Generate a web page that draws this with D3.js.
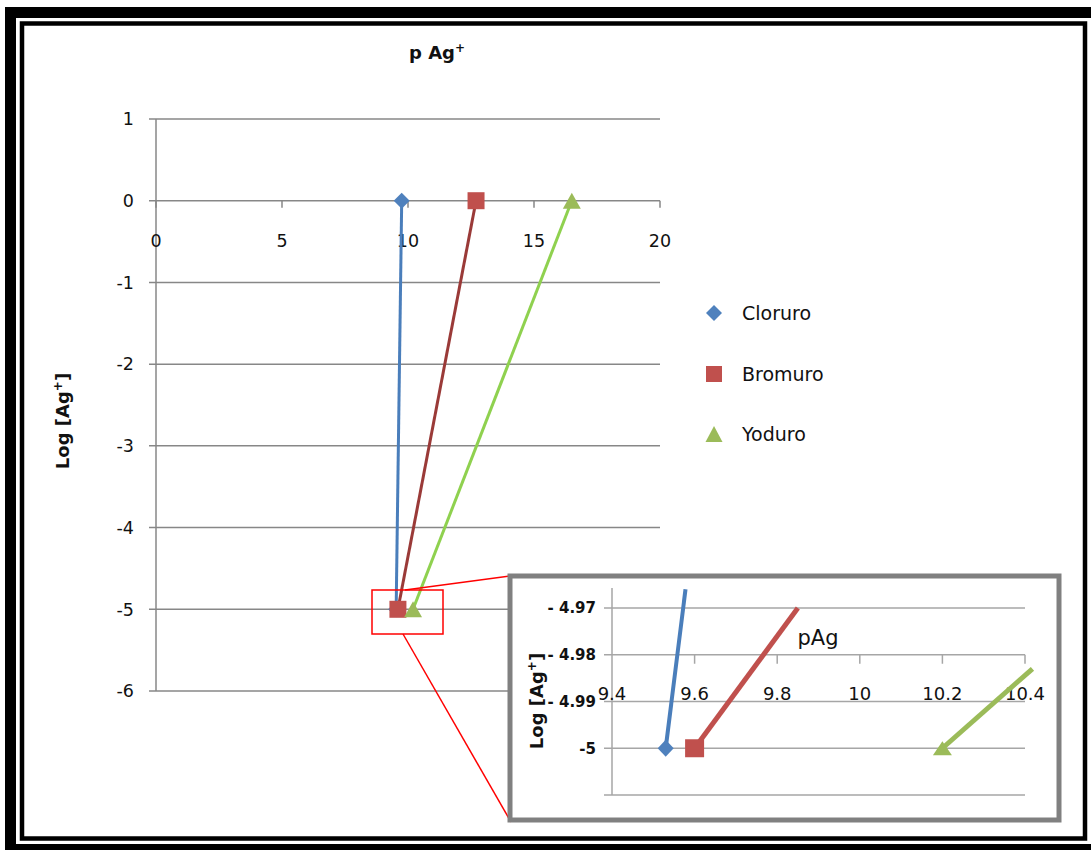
<!DOCTYPE html>
<html>
<head>
<meta charset="utf-8">
<script src="https://cdn.jsdelivr.net/npm/d3@7"></script>
<style>
  html, body { margin: 0; padding: 0; background: #fff; }
  svg { display: block; font-family: "DejaVu Sans", Verdana, sans-serif; }
</style>
</head>
<body>
<svg id="chart" width="1091" height="850"></svg>
<script>
// ---- Main chart data: log[Ag+] vs pAg for each halide ----
const seriesNames = ["Cloruro", "Bromuro", "Yoduro"];
const logAg = [0, -5];
const pAgCloruro = [9.75, 9.53];
const pAgBromuro = [12.7, 9.6];
const pAgYoduro = [16.5, 10.2];
const xTicks = [0, 5, 10, 15, 20];
const yTicks = [1, 0, -1, -2, -3, -4, -5, -6];

// ---- Detail (zoomed) view near log[Ag+] = -5 ----
const insetLogCloruro = [-5, -4.966];
const insetPAgCloruro = [9.53, 9.578];
const insetLogBromuro = [-5, -4.97];
const insetPAgBromuro = [9.6, 9.85];
const insetLogYoduro = [-5, -4.983];
const insetPAgYoduro = [10.2, 10.418];
const insetXTicks = [9.4, 9.6, 9.8, 10, 10.2, 10.4];
const insetYTicks = [-4.97, -4.98, -4.99, -5];

const markerFill = ["#4f81bd", "#c0504d", "#9bbb59"];
const mainLineColor = ["#4a7ebb", "#9a3a38", "#8fd14f"];
const insetLineColor = ["#4a7ebb", "#c0504d", "#9bbb59"];
const markerType = ["diamond", "square", "triangle"];

const svg = d3.select("#chart");
svg.append("rect").attr("width", 1091).attr("height", 850).attr("fill", "#fff");

const zip = (ps, ls) => ps.map((p, i) => ({ p: p, l: ls[i] }));
const mainData = [pAgCloruro, pAgBromuro, pAgYoduro].map(ps => zip(ps, logAg));
const insetData = [
  zip(insetPAgCloruro, insetLogCloruro),
  zip(insetPAgBromuro, insetLogBromuro),
  zip(insetPAgYoduro, insetLogYoduro)
];

// marker path centred on the origin
function markerPath(type, w, h) {
  const a = w / 2, b = h / 2;
  if (type === "diamond") return `M0,${-b}L${a},0L0,${b}L${-a},0Z`;
  if (type === "square") return `M${-a},${-b}H${a}V${b}H${-a}Z`;
  return `M0,${-b}L${a},${b}L${-a},${b}Z`;
}

// ---------------- main chart ----------------
const x = d3.scaleLinear().domain([0, 20]).range([156, 660]);
const y = d3.scaleLinear().domain([-6, 1]).range([691, 119]);
const gridColor = "#878787";

const main = svg.append("g");

// horizontal gridlines (extend left past the axis as tick marks)
main.selectAll("line.grid").data(yTicks).join("line")
  .attr("x1", x(0) - 7).attr("x2", x(20))
  .attr("y1", d => y(d)).attr("y2", d => y(d))
  .attr("stroke", gridColor).attr("stroke-width", 1.5);

// vertical axis line
main.append("line")
  .attr("x1", x(0)).attr("x2", x(0)).attr("y1", y(1)).attr("y2", y(-6))
  .attr("stroke", gridColor).attr("stroke-width", 1.5);

// x axis crosses at log = 0, ticks point down
main.selectAll("line.xt").data(xTicks).join("line")
  .attr("x1", d => x(d)).attr("x2", d => x(d))
  .attr("y1", y(0)).attr("y2", y(0) + 7)
  .attr("stroke", gridColor).attr("stroke-width", 1.5);

main.selectAll("text.yl").data(yTicks).join("text")
  .attr("x", x(0) - 22).attr("y", d => y(d)).attr("dy", "0.36em")
  .attr("text-anchor", "end").attr("font-size", 17.5).attr("fill", "#111")
  .text(d => d);

main.selectAll("text.xl").data(xTicks).join("text")
  .attr("x", d => x(d)).attr("y", y(0) + 40).attr("dy", "0.36em")
  .attr("text-anchor", "middle").attr("font-size", 17.5).attr("fill", "#111")
  .text(d => d);

// title
const title = main.append("text").attr("x", 409).attr("y", 59)
  .attr("font-size", 18).attr("font-weight", "bold").attr("fill", "#111");
title.append("tspan").text("p Ag");
title.append("tspan").attr("font-size", 12).attr("dy", -7).text("+");

// y-axis label
const ylab = main.append("text")
  .attr("transform", "translate(69,421) rotate(-90)")
  .attr("text-anchor", "middle").attr("font-size", 18).attr("font-weight", "bold").attr("fill", "#111");
ylab.append("tspan").text("Log [Ag");
ylab.append("tspan").attr("font-size", 12).attr("dy", -7).text("+");
ylab.append("tspan").attr("dy", 7).text("]");

// series lines and markers
const line = d3.line().x(d => x(d.p)).y(d => y(d.l));
mainData.forEach((pts, i) => {
  main.append("path").datum(pts).attr("d", line)
    .attr("fill", "none").attr("stroke", mainLineColor[i]).attr("stroke-width", 3);
});
const mainMarkerSize = [[16, 16], [17, 17], [18, 16]];
mainData.forEach((pts, i) => {
  main.selectAll(null).data(pts).join("path")
    .attr("transform", d => `translate(${x(d.p)},${y(d.l)})`)
    .attr("d", markerPath(markerType[i], mainMarkerSize[i][0], mainMarkerSize[i][1]))
    .attr("fill", markerFill[i]);
});

// legend
const legendY = [313, 374, 434];
const legendSize = [[16, 16], [16, 16], [17, 16]];
seriesNames.forEach((name, i) => {
  main.append("path")
    .attr("transform", `translate(714,${legendY[i]})`)
    .attr("d", markerPath(markerType[i], legendSize[i][0], legendSize[i][1]))
    .attr("fill", markerFill[i]);
  main.append("text").attr("x", 742).attr("y", legendY[i]).attr("dy", "0.36em")
    .attr("font-size", 19).attr("fill", "#111").text(name);
});

// zoom callout box and connectors
const callout = svg.append("g").attr("stroke", "#ff0000").attr("fill", "none").attr("stroke-width", 1.5);
callout.append("rect").attr("x", 372).attr("y", 590).attr("width", 71).attr("height", 44);
callout.append("line").attr("x1", 405).attr("y1", 590).attr("x2", 510).attr("y2", 576);
callout.append("line").attr("x1", 403).attr("y1", 634).attr("x2", 511).attr("y2", 822);

// ---------------- detail view ----------------
const ix = d3.scaleLinear().domain([9.4, 10.4]).range([612, 1025]);
const iy = d3.scaleLinear().domain([-5.01, -4.97]).range([795, 608]);
const inset = svg.append("g");
inset.append("rect").attr("x", 510).attr("y", 576).attr("width", 549).attr("height", 244)
  .attr("fill", "#fff").attr("stroke", "#808080").attr("stroke-width", 5);

const insetGrid = insetYTicks.concat([-5.01]);
inset.selectAll("line.ig").data(insetGrid).join("line")
  .attr("x1", ix(9.4) - 8).attr("x2", ix(10.4))
  .attr("y1", d => iy(d)).attr("y2", d => iy(d))
  .attr("stroke", "#a6a6a6").attr("stroke-width", 1.5);
inset.append("line")
  .attr("x1", ix(9.4)).attr("x2", ix(9.4)).attr("y1", iy(-4.9657)).attr("y2", iy(-5.01))
  .attr("stroke", "#a6a6a6").attr("stroke-width", 1.5);
inset.selectAll("line.ixt").data(insetXTicks.slice(1)).join("line")
  .attr("x1", d => ix(d)).attr("x2", d => ix(d))
  .attr("y1", iy(-4.98)).attr("y2", iy(-4.98) + 9)
  .attr("stroke", "#a6a6a6").attr("stroke-width", 1.5);

inset.selectAll("text.iyl").data(insetYTicks).join("text")
  .attr("x", 596).attr("y", d => iy(d)).attr("dy", "0.36em")
  .attr("text-anchor", "end").attr("font-size", 15).attr("font-weight", "bold").attr("fill", "#111")
  .text(d => d === -5 ? "-5" : "- " + Math.abs(d).toFixed(2));

inset.selectAll("text.ixl").data(insetXTicks).join("text")
  .attr("x", d => ix(d)).attr("y", iy(-4.98) + 39).attr("dy", "0.36em")
  .attr("text-anchor", "middle").attr("font-size", 18).attr("fill", "#111")
  .text(d => d);

inset.append("text").attr("x", 818).attr("y", 637).attr("dy", "0.36em")
  .attr("text-anchor", "middle").attr("font-size", 21).attr("fill", "#111").text("pAg");

const iylab = inset.append("text")
  .attr("transform", "translate(543,701) rotate(-90)")
  .attr("text-anchor", "middle").attr("font-size", 18).attr("font-weight", "bold").attr("fill", "#111");
iylab.append("tspan").text("Log [Ag");
iylab.append("tspan").attr("font-size", 12).attr("dy", -7).text("+");
iylab.append("tspan").attr("dy", 7).text("]");

const iline = d3.line().x(d => ix(d.p)).y(d => iy(d.l));
const insetWidth = [4, 5, 5];
insetData.forEach((pts, i) => {
  inset.append("path").datum(pts).attr("d", iline)
    .attr("fill", "none").attr("stroke", insetLineColor[i]).attr("stroke-width", insetWidth[i]);
});
const insetMarkerSize = [[16, 17], [19, 18], [19, 14]];
insetData.forEach((pts, i) => {
  inset.append("path")
    .attr("transform", `translate(${ix(pts[0].p)},${iy(pts[0].l)})`)
    .attr("d", markerPath(markerType[i], insetMarkerSize[i][0], insetMarkerSize[i][1]))
    .attr("fill", markerFill[i]);
});

// ---------------- page frame ----------------
const frame = svg.append("g").attr("fill", "none");
frame.append("rect").attr("x", 10.5).attr("y", 12.5).attr("width", 1100).attr("height", 837)
  .attr("stroke", "#000").attr("stroke-width", 11);
frame.append("rect").attr("x", 22).attr("y", 23.5).attr("width", 1063).attr("height", 815)
  .attr("stroke", "#000").attr("stroke-width", 4.5);
</script>
</body>
</html>
